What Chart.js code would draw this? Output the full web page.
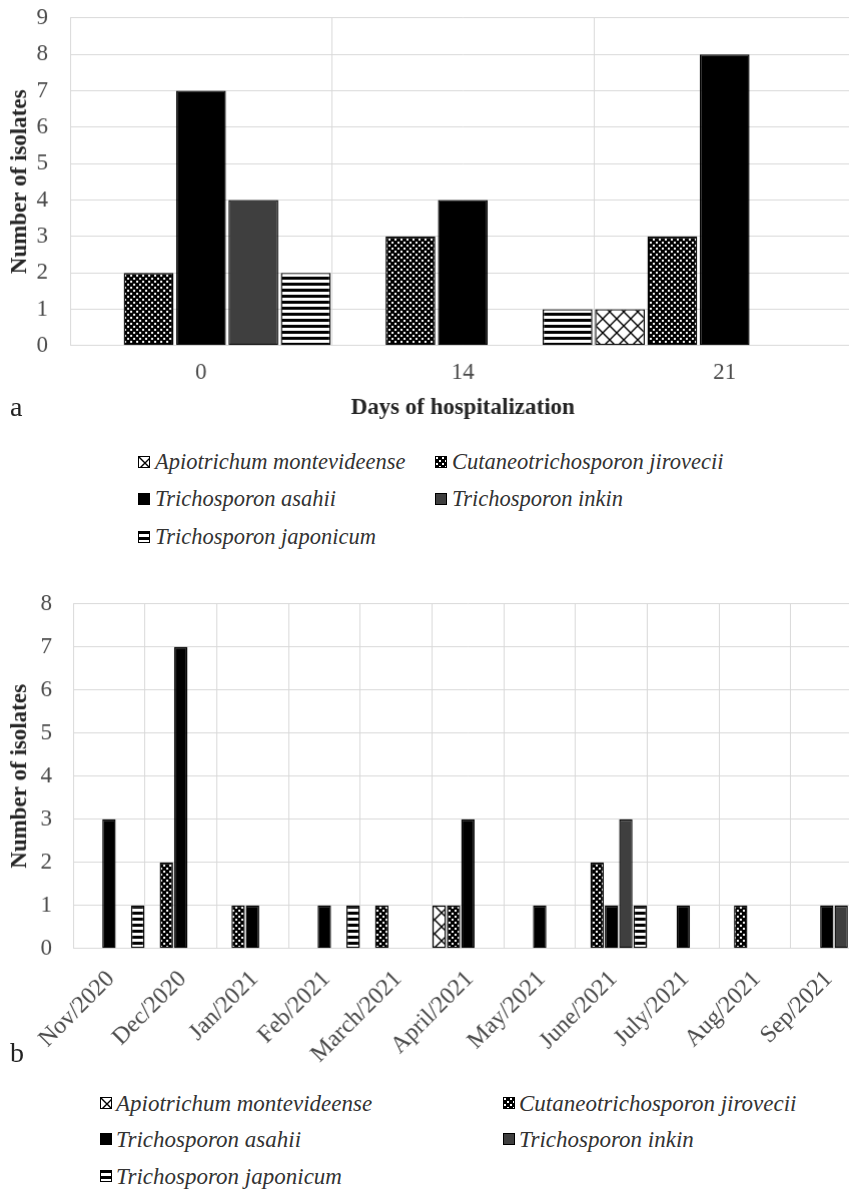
<!DOCTYPE html>
<html><head><meta charset="utf-8">
<script src="https://cdn.jsdelivr.net/npm/chart.js@4.4.0/dist/chart.umd.min.js"></script>
<style>
html,body{margin:0;padding:0;background:#fff;}
body{width:849px;height:1189px;overflow:hidden;position:relative;font-family:'Liberation Serif','Times New Roman',serif;}
.box{position:absolute;left:0;}
.panel-label{position:absolute;font-size:28px;color:#222;line-height:1;}
.leg{position:absolute;display:flex;align-items:center;height:30px;white-space:nowrap;font-style:italic;color:#333;line-height:1;}
.leg canvas{display:block;}
</style></head><body>
<canvas id="chartA" class="box" width="870" height="430" style="top:0"></canvas>
<canvas id="chartB" class="box" width="870" height="508" style="top:580px"></canvas>
<div class="panel-label" style="left:10px;top:393px">a</div>
<div class="panel-label" style="left:10px;top:1039px">b</div>
<div id="legA"></div><div id="legB"></div>
<script>
// ---- data ----
const speciesNames = ['Apiotrichum montevideense','Cutaneotrichosporon jirovecii','Trichosporon asahii','Trichosporon inkin','Trichosporon japonicum'];

const daysLabels = ['0','14','21'];
const apioA      = [0,0,1];
const cutaneoA   = [2,3,3];
const asahiiA    = [7,4,8];
const inkinA     = [4,0,0];
const japonicumA = [2,1,0];

const monthLabels = ['Nov/2020','Dec/2020','Jan/2021','Feb/2021','March/2021','April/2021','May/2021','June/2021','July/2021','Aug/2021','Sep/2021'];
const apioB      = [0,0,0,0,0,1,0,0,0,0,0];
const cutaneoB   = [0,2,1,0,1,1,0,2,0,1,0];
const asahiiB    = [3,7,1,1,0,3,1,1,1,0,1];
const inkinB     = [0,0,0,0,0,0,0,3,0,0,1];
const japonicumB = [1,0,0,1,0,0,0,1,0,0,0];

const yMaxA = 9, yMaxB = 8;
const xTitleA = 'Days of hospitalization';
const yTitle = 'Number of isolates';

// ---- styles ----
const fam = "'Liberation Serif','Times New Roman',serif";
function pat(kind){
  const c=document.createElement('canvas');
  const x=c.getContext('2d');
  if(kind==='cross'){
    c.width=c.height=14;x.fillStyle='#fff';x.fillRect(0,0,14,14);
    x.strokeStyle='#000';x.lineWidth=1.4;x.beginPath();
    x.moveTo(-1,-1);x.lineTo(15,15);x.moveTo(15,-1);x.lineTo(-1,15);x.stroke();
  } else if(kind==='check'){
    c.width=c.height=6;x.fillStyle='#000';x.fillRect(0,0,6,6);
    x.fillStyle='#fff';x.fillRect(1,1,2,2);x.fillRect(4,4,2,2);
  } else if(kind==='hstripe'){
    c.width=6;c.height=6;x.fillStyle='#fff';x.fillRect(0,0,6,6);
    x.fillStyle='#000';x.fillRect(0,0,6,3);
  }
  return x.createPattern(c,'repeat');
}
const fills=[pat('cross'),pat('check'),'#000','#3f3f3f',pat('hstripe')];

function ds(arrays,bp){
  return arrays.map((d,i)=>({
    label:speciesNames[i],data:d,backgroundColor:fills[i],borderColor:'#000',
    borderWidth:c=>c.raw?1.4:0,borderSkipped:false,barPercentage:bp,categoryPercentage:1
  }));
}

function makeChart(id,labels,datasets,cfg){
  const grid={color:'#d9d9d9',lineWidth:1,drawTicks:false};
  return new Chart(document.getElementById(id),{
    type:'bar',
    data:{labels:labels,datasets:datasets},
    options:{
      responsive:false,maintainAspectRatio:false,animation:false,
      layout:{padding:0},
      plugins:{legend:{display:false},tooltip:{enabled:false}},
      scales:{
        x:{
          type:'category',offset:true,
          grid:Object.assign({offset:true},grid),
          border:{color:'#d9d9d9'},
          ticks:{font:{family:fam,size:cfg.xFont},color:'#4a4a4a',padding:cfg.xTickPad,autoSkip:false,
                 minRotation:cfg.rot,maxRotation:cfg.rot,labelOffset:cfg.labelOffset||0},
          title:{display:!!cfg.xTitle,text:cfg.xTitle||'',font:{family:fam,size:23,weight:'bold'},color:'#262626',padding:{top:0,bottom:9}},
          afterFit:s=>{s.height=cfg.xHeight;}
        },
        y:{
          min:0,max:cfg.yMax,
          grid:grid,
          border:{color:'#d9d9d9'},
          ticks:{stepSize:1,font:{family:fam,size:23},color:'#4a4a4a',padding:cfg.yTickPad},
          title:{display:true,text:yTitle,font:{family:fam,size:23,weight:'bold'},color:'#262626',padding:{top:6,bottom:0}},
          afterFit:s=>{s.width=cfg.yWidth;}
        }
      }
    }
  });
}

// size the canvas so the plot frame lands where the reference has it
function place(chart,canvas,plotTop,plotBottom,plotRight){
  for(let k=0;k<6;k++){
    const a=chart.chartArea;
    const dh=(plotBottom-plotTop)-(a.bottom-a.top);
    const dw=plotRight-a.right;
    if(Math.abs(dh)<0.3&&Math.abs(dw)<0.3)break;
    chart.resize(chart.width+dw,chart.height+dh);
  }
  canvas.style.top=(plotTop-chart.chartArea.top)+'px';
}

const chA=makeChart('chartA',daysLabels,ds([apioA,cutaneoA,asahiiA,inkinA,japonicumA],0.95),
  {xTickPad:13.2,xFont:23,rot:0,xTitle:xTitleA,xHeight:85,yMax:yMaxA,yTickPad:22,yWidth:70});
const chB=makeChart('chartB',monthLabels,ds([apioB,cutaneoB,asahiiB,inkinB,japonicumB],0.93),
  {xTickPad:16.5,xFont:24,rot:45,labelOffset:2,xHeight:140,yMax:yMaxB,yTickPad:21,yWidth:73});
place(chA,document.getElementById('chartA'),18,345,854.5);
place(chB,document.getElementById('chartB'),604,948,861.7);

// ---- HTML legends ----
function legend(hostId,positions,fontSize,gap){
  const host=document.getElementById(hostId);
  speciesNames.forEach((name,i)=>{
    const p=positions[i];
    const d=document.createElement('div');
    d.className='leg';d.style.left=p[0]+'px';d.style.top=(p[1]-15)+'px';d.style.fontSize=fontSize+'px';
    const c=document.createElement('canvas');c.width=12;c.height=12;
    const x=c.getContext('2d');x.fillStyle=fills[i];x.fillRect(0,0,12,12);
    x.strokeStyle='#000';x.lineWidth=1;x.strokeRect(0.5,0.5,11,11);
    const t=document.createElement('span');t.textContent=name;t.style.marginLeft=gap+'px';
    d.appendChild(c);d.appendChild(t);host.appendChild(d);
  });
}
legend('legA',[[138,462],[435,462],[138,499],[435,499],[138,537]],22.5,5);
legend('legB',[[100,1103],[503,1103],[100,1139],[503,1139],[100,1176]],23,4);
</script>
</body></html>
